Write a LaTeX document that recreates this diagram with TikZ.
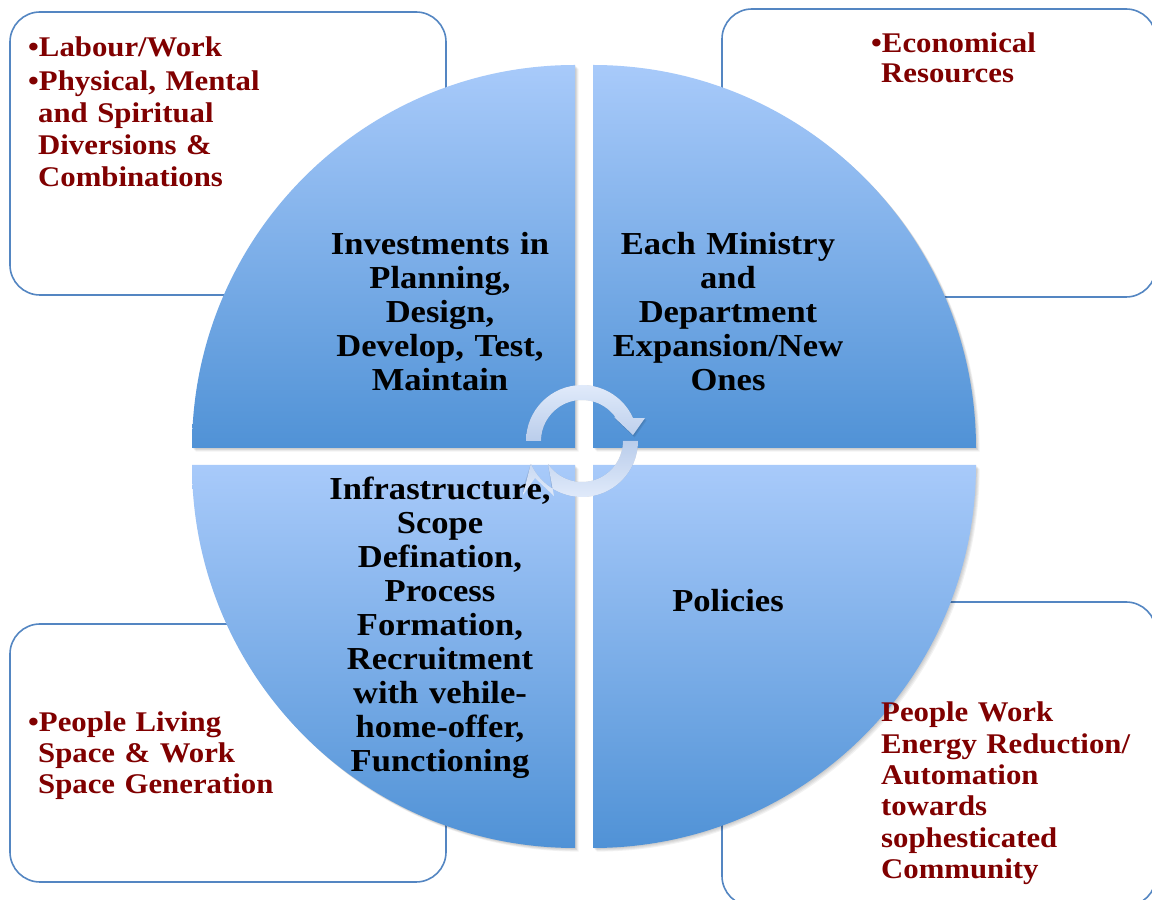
\documentclass[tikz,border=0pt]{standalone}
\usepackage{fontspec}
\setmainfont{Liberation Serif}[FakeStretch=1.08]
\usetikzlibrary{calc}
\definecolor{qlight}{RGB}{168,202,250}
\definecolor{qdark}{RGB}{80,146,214}
\definecolor{boxline}{RGB}{84,134,194}
\definecolor{darkred}{RGB}{128,0,0}
\definecolor{arrowlight}{RGB}{224,234,250}
\definecolor{arrowdark}{RGB}{186,205,235}
\tikzset{
  cornerbox/.style={draw=boxline, line width=1.6pt, rounded corners=30pt, fill=white, inner sep=0pt},
  quadtext/.style={font=\fontsize{32}{34}\selectfont\bfseries, text width=260pt, align=center, inner sep=0pt, anchor=base},
  cornertext/.style={font=\fontsize{28.5}{31}\selectfont\bfseries, text=darkred, text width=300pt, align=left, inner sep=0pt, anchor=base west},
  quadshade/.style={top color=qlight, bottom color=qdark},
  softshadow/.style={fill=black, opacity=0.05},
}
\newcommand{\myquadrant}[4]{%
  \foreach \s in {1,...,4}{%
    \fill[softshadow] ($(#1,#2)+(\s*0.9,-\s*0.9)$) -- ++(#3:383pt) arc[start angle=#3, end angle=#4, radius=383pt] -- cycle;}
  \shade[quadshade] (#1,#2) -- ++(#3:383pt) arc[start angle=#3, end angle=#4, radius=383pt] -- cycle;
}
\newcommand{\mycycarrow}[2]{%
  \foreach \s in {1,2}{%
    \fill[softshadow, opacity=0.08, shift={(\s*0.8,-\s*1.2)}] ($(ac)+(180:56pt)$) arc[start angle=180, end angle=24, radius=56pt] -- (645,482) -- (633,465) -- (614,483) -- ($(ac)+(34:41pt)$) arc[start angle=34, end angle=180, radius=41pt] -- cycle;}
  \shade[top color=#1, bottom color=#2] ($(ac)+(180:56pt)$) arc[start angle=180, end angle=24, radius=56pt] -- (645,482) -- (633,465) -- (614,483) -- ($(ac)+(34:41pt)$) arc[start angle=34, end angle=180, radius=41pt] -- cycle;
}
\begin{document}
\begin{tikzpicture}[x=1pt,y=1pt]
\useasboundingbox (0,0) rectangle (1152,900);
\fill[white] (0,0) rectangle (1152,900);
% corner boxes
\node[cornerbox, minimum width=436pt, minimum height=283pt] (boxTL) at (228,746.5) {};
\node[cornerbox, minimum width=434pt, minimum height=288pt] (boxTR) at (939,747) {};
\node[cornerbox, minimum width=436pt, minimum height=258pt] (boxBL) at (228,147) {};
\node[cornerbox, minimum width=434pt, minimum height=304pt] (boxBR) at (939,146) {};
% quadrants
\myquadrant{575}{452}{180}{90}
\myquadrant{593}{452}{90}{0}
\myquadrant{575}{435}{180}{270}
\myquadrant{593}{435}{0}{-90}
% quadrant texts
\node[quadtext] (tTL) at (440,645) {Investments in\\ Planning,\\ Design,\\ Develop, Test,\\ Maintain};
\node[quadtext] (tTR) at (728,645) {Each Ministry\\ and\\ Department\\ Expansion/New\\ Ones};
\node[quadtext] (tBL) at (440,400) {Infrastructure,\\ Scope\\ Defination,\\ Process\\ Formation,\\ Recruitment\\ with vehile-\\ home-offer,\\ Functioning};
\node[quadtext] (tBR) at (728,288) {Policies};
% corner texts
\node[cornertext, font=\fontsize{28.5}{32}\selectfont\bfseries] (cTL) at (28,843) {\textbullet Labour/Work\\[2pt] \textbullet Physical, Mental\\ \hspace*{10pt}and Spiritual\\ \hspace*{10pt}Diversions \&\\ \hspace*{10pt}Combinations};
\node[cornertext, font=\fontsize{28.5}{30}\selectfont\bfseries] (cTR) at (871,847) {\textbullet Economical\\ \hspace*{10pt}Resources};
\node[cornertext] (cBL) at (28,168) {\textbullet People Living\\ \hspace*{10pt}Space \& Work\\ \hspace*{10pt}Space Generation};
\node[cornertext, font=\fontsize{28.5}{31.3}\selectfont\bfseries] (cBR) at (881,178) {People Work\\ Energy Reduction/\\ Automation\\ towards\\ sophesticated\\ Community};
% circular arrows
\coordinate (ac) at (582,459);
\mycycarrow{arrowlight}{arrowdark}
\begin{scope}[rotate around={180:(584,443.5)}]
\mycycarrow{arrowdark}{arrowlight}
\end{scope}
\end{tikzpicture}
\end{document}
